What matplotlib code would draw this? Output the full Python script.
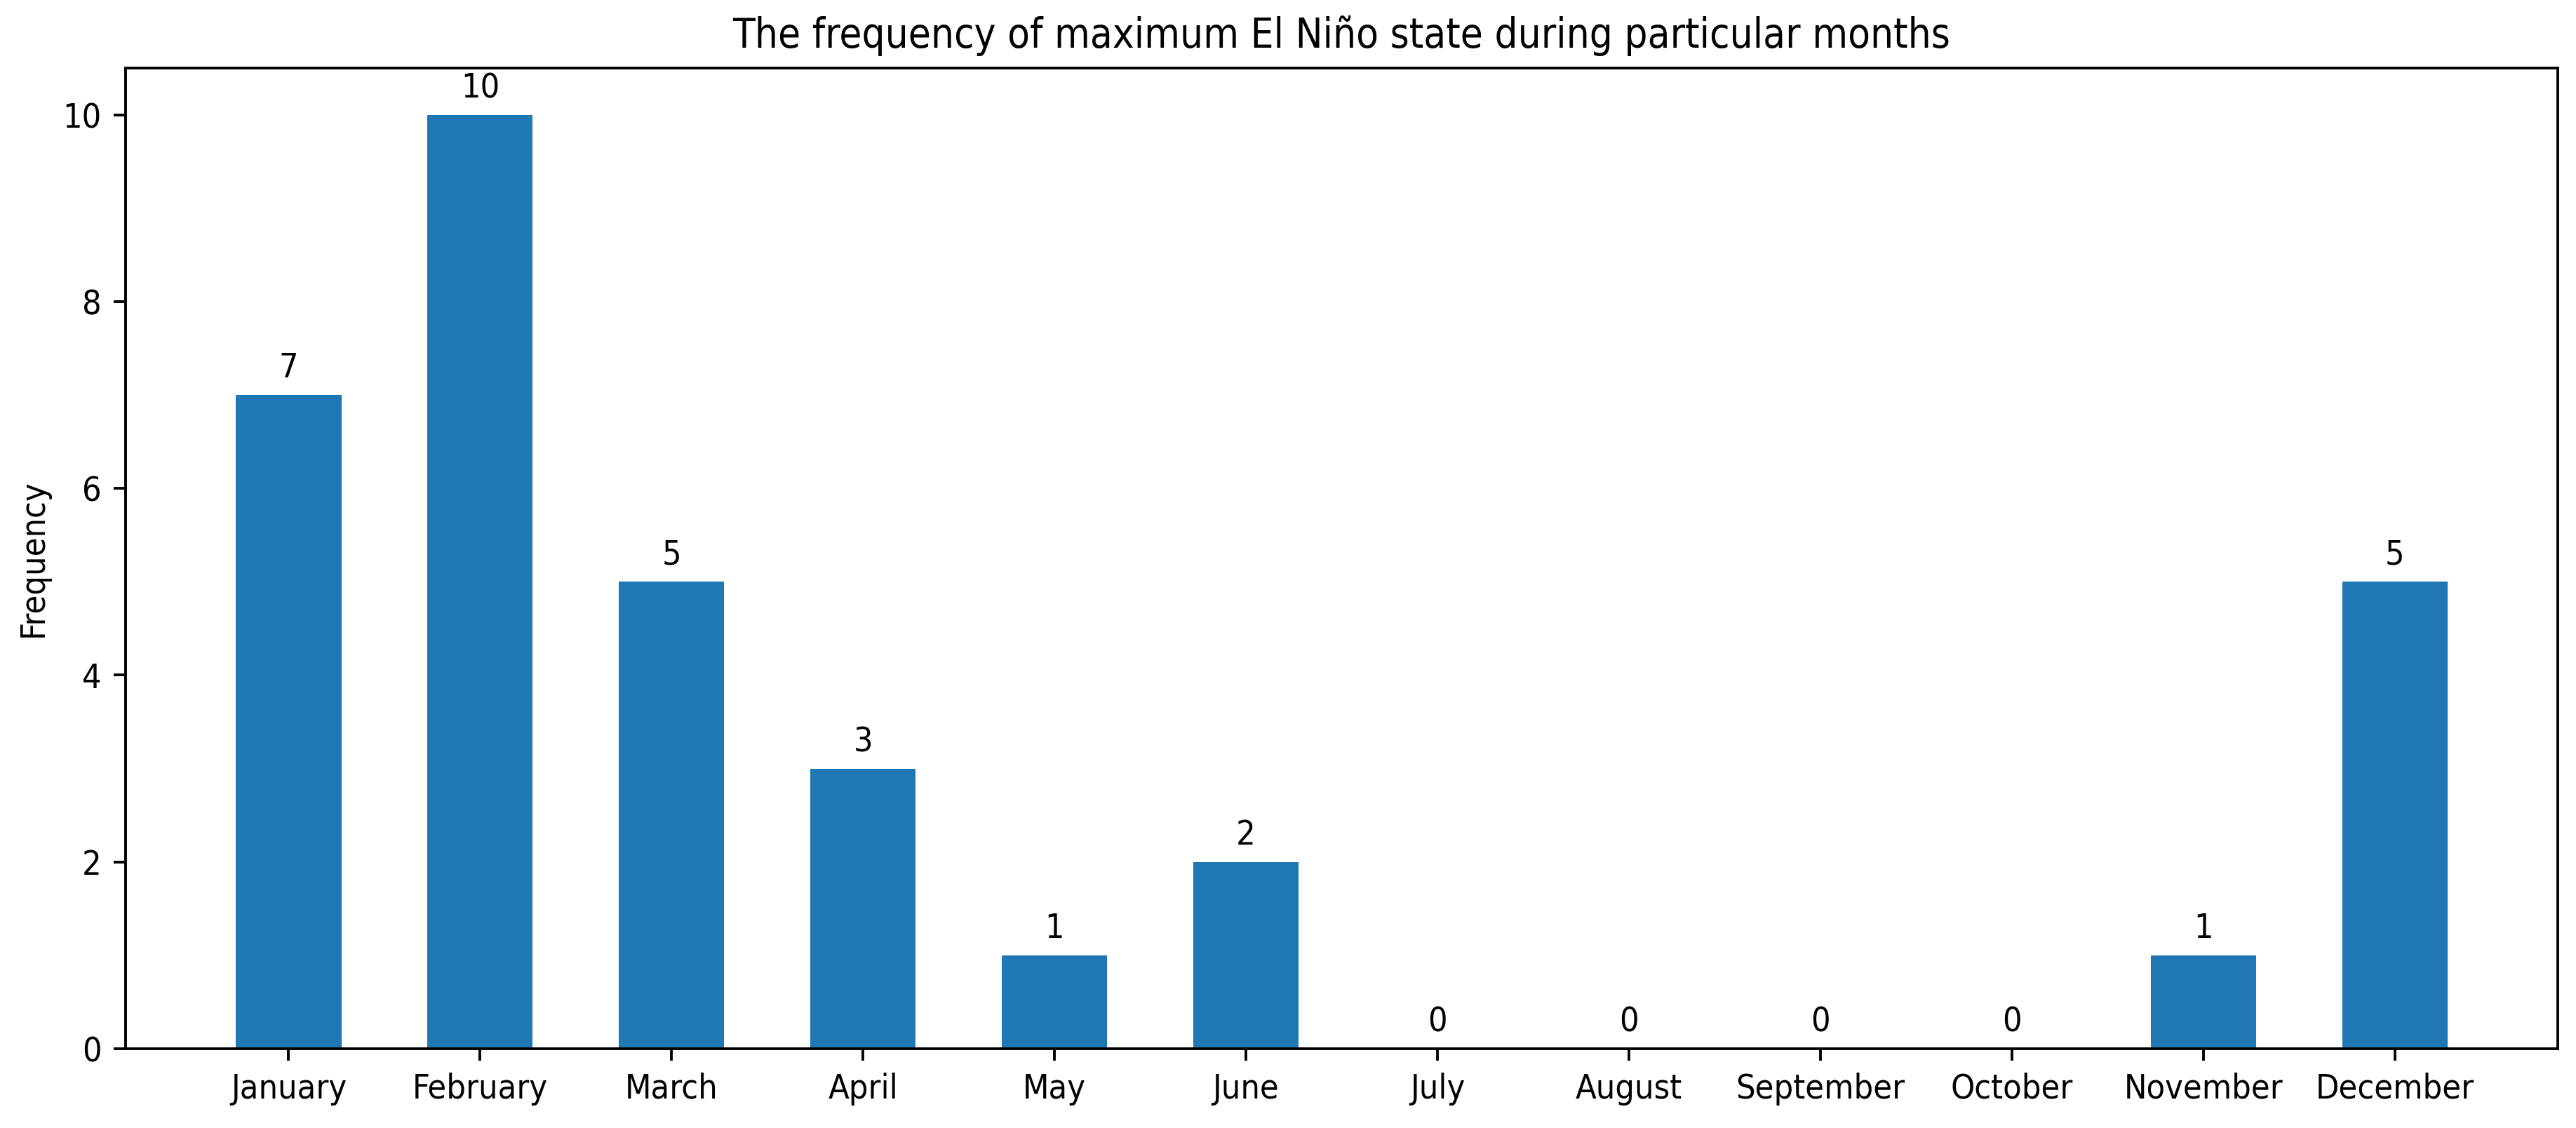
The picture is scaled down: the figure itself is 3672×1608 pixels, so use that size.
import matplotlib
matplotlib.use("Agg")
import matplotlib.pyplot as plt
import numpy as np
from matplotlib import font_manager

# Data
months = ["January", "February", "March", "April", "May", "June", "July",
          "August", "September", "October", "November", "December"]
frequency = [7, 10, 5, 3, 1, 2, 0, 0, 0, 0, 1, 5]

s = 1.45  # scale relative to default matplotlib sizes
plt.rcParams.update({
    "font.size": 10 * s,
    "font.stretch": "condensed",
    "axes.linewidth": 0.8 * s,
    "xtick.major.width": 0.8 * s,
    "ytick.major.width": 0.8 * s,
    "xtick.major.size": 3.5 * s,
    "ytick.major.size": 3.5 * s,
    "xtick.major.pad": 3.5 * s,
    "ytick.major.pad": 3.5 * s,
})
print(font_manager.findfont(font_manager.FontProperties(family="DejaVu Sans", stretch="condensed")))

fig = plt.figure(figsize=(3672 / 240, 1608 / 240), dpi=240)
ax = fig.add_axes([0.0487, 0.0703, 0.9443, 0.8694])

x = np.arange(len(months))
bars = ax.bar(x, frequency, width=0.55, color="#1f77b4")

for rect, v in zip(bars, frequency):
    ax.annotate(str(v), xy=(rect.get_x() + rect.get_width() / 2, rect.get_height()),
                xytext=(0, 3 * s), textcoords="offset points",
                ha="center", va="bottom")

ax.set_xticks(x)
ax.set_xticklabels(months)
ax.set_ylabel("Frequency", labelpad=4 * s)
ax.set_title("The frequency of maximum El Niño state during particular months", pad=6 * s)

fig.savefig("out.png", dpi=240)
